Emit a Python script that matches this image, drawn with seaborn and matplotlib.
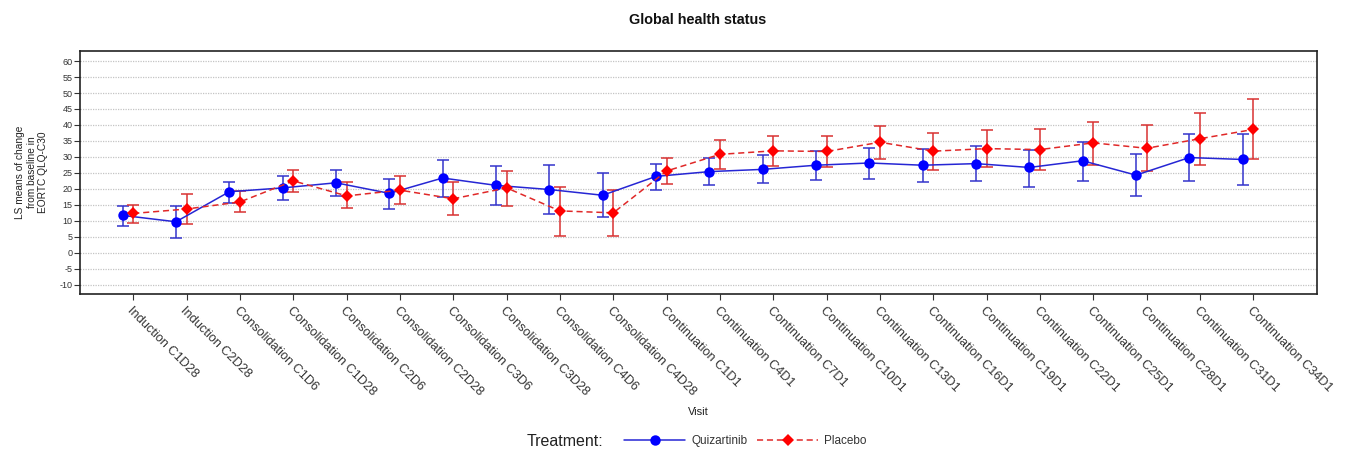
import numpy as np
import pandas as pd
import seaborn as sns
import matplotlib
matplotlib.use("Agg")
import matplotlib.pyplot as plt
from matplotlib.lines import Line2D

# Visits along the x axis
visits = [
    "Induction C1D28", "Induction C2D28",
    "Consolidation C1D6", "Consolidation C1D28", "Consolidation C2D6",
    "Consolidation C2D28", "Consolidation C3D6", "Consolidation C3D28",
    "Consolidation C4D6", "Consolidation C4D28",
    "Continuation C1D1", "Continuation C4D1", "Continuation C7D1",
    "Continuation C10D1", "Continuation C13D1", "Continuation C16D1",
    "Continuation C19D1", "Continuation C22D1", "Continuation C25D1",
    "Continuation C28D1", "Continuation C31D1", "Continuation C34D1",
]

# LS mean change from baseline with 95% CI, Quizartinib arm
quiz_mean = [11.7, 9.7, 19.1, 20.3, 21.9, 18.6, 23.4, 21.1, 19.8, 18.0, 23.9,
             25.4, 26.1, 27.4, 28.1, 27.4, 27.9, 26.7, 28.8, 24.3, 29.8, 29.2]
quiz_low = [8.4, 4.6, 15.7, 16.6, 17.8, 13.8, 17.6, 15.1, 12.2, 11.2, 19.8,
            21.3, 21.8, 22.7, 23.1, 22.2, 22.4, 20.7, 22.5, 17.7, 22.5, 21.1]
quiz_high = [14.7, 14.7, 22.2, 23.9, 25.9, 23.1, 29.1, 27.2, 27.4, 24.9, 27.8,
             29.7, 30.5, 32.0, 32.8, 32.6, 33.4, 32.3, 34.8, 31.0, 37.1, 37.3]

# LS mean change from baseline with 95% CI, Placebo arm
plac_mean = [12.3, 13.7, 15.9, 22.5, 17.8, 19.6, 16.9, 20.3, 13.1, 12.5, 25.6,
             30.8, 31.9, 31.7, 34.6, 31.8, 32.6, 32.3, 34.4, 32.7, 35.7, 38.6]
plac_low = [9.3, 8.9, 12.8, 19.1, 13.9, 15.2, 11.8, 14.7, 5.3, 5.2, 21.5,
            26.3, 27.3, 26.9, 29.2, 25.9, 26.8, 25.8, 27.6, 25.5, 27.4, 29.3]
plac_high = [15.1, 18.3, 19.3, 25.9, 22.0, 23.9, 22.0, 25.5, 20.6, 19.8, 29.7,
             35.2, 36.6, 36.6, 39.8, 37.6, 38.4, 38.6, 40.9, 39.9, 43.8, 48.0]

treatments = ["Quizartinib", "Placebo"]

sns.set_theme(style="white")
plt.rcParams["font.family"] = ["Liberation Sans", "DejaVu Sans"]
plt.rcParams["axes.unicode_minus"] = False

idx = np.arange(len(visits))
offsets = {"Quizartinib": -0.2, "Placebo": 0.0}
frames = []
for name, m, lo, hi in [("Quizartinib", quiz_mean, quiz_low, quiz_high),
                        ("Placebo", plac_mean, plac_low, plac_high)]:
    frames.append(pd.DataFrame({
        "pos": idx + offsets[name], "mean": m, "low": lo, "high": hi,
        "Treatment": name,
    }))
df = pd.concat(frames, ignore_index=True)

line_col = {"Quizartinib": "#2626d4", "Placebo": "#e02828"}
mark_col = {"Quizartinib": "#0000ff", "Placebo": "#ff0000"}
err_col = {"Quizartinib": "#3434cc", "Placebo": "#d83232"}
markers = {"Quizartinib": "o", "Placebo": "D"}
msize = {"Quizartinib": 7.5, "Placebo": 6.3}
dashes = {"Quizartinib": "", "Placebo": (4, 2.5)}

fig = plt.figure(figsize=(13.46, 4.5), dpi=100)
ax = fig.add_axes([0.0594, 0.346, 0.9193, 0.5396])

# horizontal dotted reference grid
for yv in range(-10, 61, 5):
    ax.axhline(yv, color="#c4c4c4", lw=0.9, ls=(0, (1, 1)), zorder=0)

for name in treatments:
    sub = df[df["Treatment"] == name]
    ax.errorbar(sub["pos"], sub["mean"],
                yerr=[sub["mean"] - sub["low"], sub["high"] - sub["mean"]],
                fmt="none", ecolor=err_col[name], elinewidth=1.1,
                capsize=4.5, capthick=1.1, zorder=2)

sns.lineplot(data=df, x="pos", y="mean", hue="Treatment", style="Treatment",
             hue_order=treatments, style_order=treatments,
             palette=line_col, markers=markers, dashes=dashes,
             linewidth=1.1, markersize=7.5, markeredgewidth=0,
             legend=False, ax=ax, zorder=3)
for ln, name in zip(ax.get_lines()[-2:], treatments):
    ln.set_markerfacecolor(mark_col[name])
    ln.set_markeredgecolor(mark_col[name])
    ln.set_markersize(msize[name])

ax.set_xlim(-1, 22.2)
ax.set_ylim(-13, 63)
ax.set_yticks(range(-10, 61, 5))
ax.set_xticks(idx)
ax.set_xticklabels(visits, rotation=-45, ha="left", va="top",
                   rotation_mode="anchor", fontsize=9.2, color="#222222")
ax.tick_params(axis="y", labelsize=6.5, length=4, width=0.8, pad=1.5,
               direction="out", left=True, colors="#333333")
ax.tick_params(axis="x", length=4, width=0.8, pad=3.5, direction="out",
               bottom=True, colors="#333333")
for sp in ax.spines.values():
    sp.set_color("#222222")
    sp.set_linewidth(1.2)

ax.set_xlabel("")
ax.set_ylabel("")
fig.text(0.5185, 1 - 412 / 450, "Visit", ha="center", va="center",
         fontsize=8, color="#222222")
fig.text(31.7 / 1346, 1 - 172 / 450,
         "LS means of change\nfrom baseline in\nEORTC QLQ-C30",
         rotation=90, ha="center", va="center", multialignment="center",
         fontsize=7.3, linespacing=1.2, color="#222222")
fig.text(0.5185, 1 - 20 / 450, "Global health status", ha="center",
         va="center", fontsize=10.4, fontweight="bold", color="#111111")

fig.text(527 / 1346, 1 - 441 / 450, "Treatment:", ha="left", va="center",
         fontsize=11.5, color="#222222")
handles = [
    Line2D([], [], color=line_col[n], lw=1.1,
           ls="-" if n == "Quizartinib" else (0, (4, 2.5)),
           marker=markers[n], markersize=msize[n],
           markerfacecolor=mark_col[n], markeredgewidth=0)
    for n in treatments
]
fig.legend(handles, treatments, loc="center left",
           bbox_to_anchor=(624 / 1346, 1 - 441 / 450), ncol=2, frameon=False,
           fontsize=8.5, handlelength=5.2, handletextpad=0.5,
           columnspacing=0.8, borderaxespad=0, borderpad=0,
           labelcolor="#333333")

fig.savefig("out.png", dpi=100)
